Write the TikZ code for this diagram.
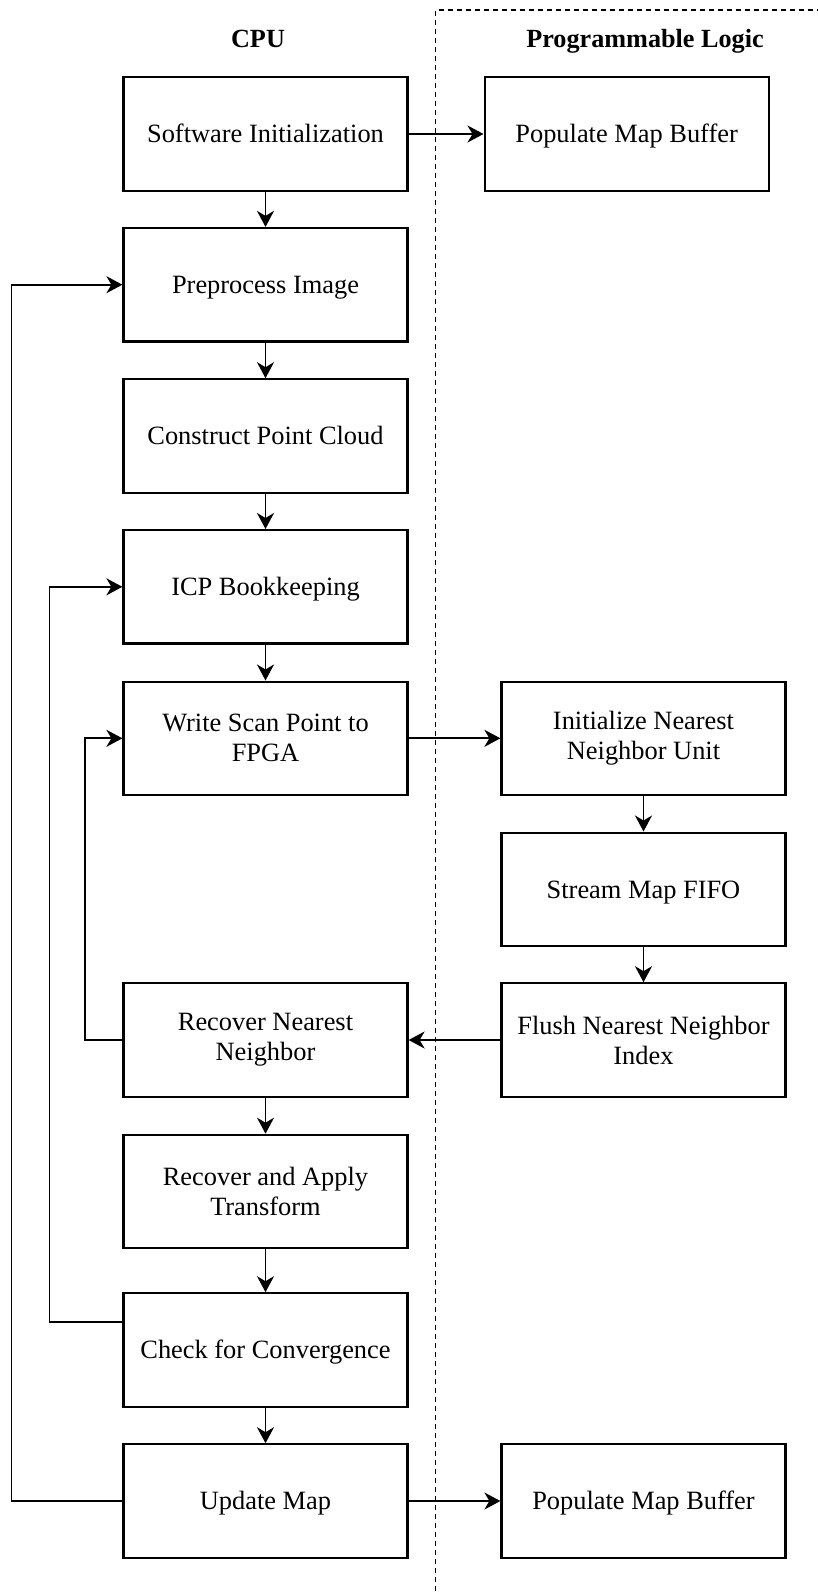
\documentclass[tikz,border=0pt]{standalone}
\usepackage{fontspec}
\setmainfont{Liberation Serif}
\usetikzlibrary{arrows.meta,positioning,calc}
\begin{document}
\begin{tikzpicture}[x=1pt,y=-1pt,
  box/.style={draw=black,line width=2.2pt,minimum width=284pt,minimum height=113.4pt,
    inner sep=0pt,align=center,font=\fontsize{26.4}{30}\selectfont},
  one/.style={text height=17.5pt,text depth=0pt},
  title/.style={font=\bfseries\fontsize{26.2}{30}\selectfont,anchor=base},
  conn/.style={line width=1.8pt,-{Stealth[length=16pt,width=17pt,inset=5pt]}},
  sep/.style={line width=1.6pt,dash pattern=on 5pt off 4pt}]
\useasboundingbox (0,0) rectangle (817,1593);
\fill[white] (0,0) rectangle (817,1593);

\draw[sep] (435.6,1600) -- (435.6,10) -- (830,10);

\node[title] (tcpu) at (258,47) {CPU};
\node[title] (tpl) at (645,47) {Programmable Logic};

\node[box,one] (soft) at (265.5,134) {Software Initialization};
\node[box,one] (poptop) at (626.6,134) {Populate Map Buffer};
\node[box,one] (pre) at (265.5,284.7) {Preprocess Image};
\node[box,one] (cons) at (265.5,436) {Construct Point Cloud};
\node[box,one] (icp) at (265.5,586.8) {ICP Bookkeeping};
\node[box] (write) at (265.5,738.3) {Write Scan Point to\\FPGA};
\node[box] (init) at (643.5,738.3) {Initialize Nearest\\Neighbor Unit};
\node[box,one] (stream) at (643.5,889.3) {Stream Map FIFO};
\node[box] (flush) at (643.5,1040) {Flush Nearest Neighbor\\Index};
\node[box] (recnn) at (265.5,1040) {Recover Nearest\\Neighbor};
\node[box] (recapp) at (265.5,1191.5) {Recover and Apply\\Transform};
\node[box,one] (check) at (265.5,1350) {Check for Convergence};
\node[box,one] (update) at (265.5,1501) {Update Map};
\node[box,one] (popbot) at (643.5,1501) {Populate Map Buffer};

\draw[conn] (soft.east) -- (poptop.west);
\draw[conn] (soft.south) -- (pre.north);
\draw[conn] (pre.south) -- (cons.north);
\draw[conn] (cons.south) -- (icp.north);
\draw[conn] (icp.south) -- (write.north);
\draw[conn] (write.east) -- (init.west);
\draw[conn] (init.south) -- (stream.north);
\draw[conn] (stream.south) -- (flush.north);
\draw[conn] (flush.west) -- (recnn.east);
\draw[conn] (recnn.west) -- ++(-37.5,0) |- (write.west);
\draw[conn] (recnn.south) -- (recapp.north);
\draw[conn] (recapp.south) -- (check.north);
\draw[conn] (check.south) -- (update.north);
\coordinate (cout) at ([yshift=-30pt]check.north west);
\draw[conn] (cout) -- ++(-73,0) |- (icp.west);
\draw[conn] (update.west) -- ++(-111,0) |- (pre.west);
\draw[conn] (update.east) -- (popbot.west);
\end{tikzpicture}
\end{document}
